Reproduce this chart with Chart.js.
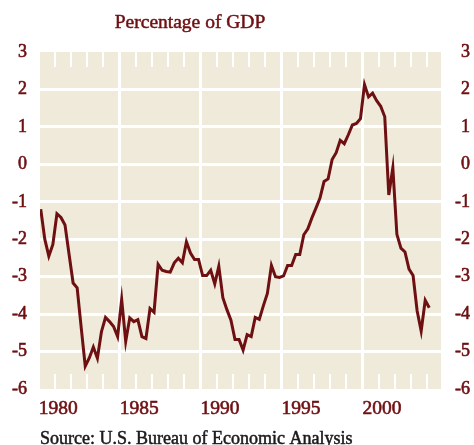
<!DOCTYPE html>
<html>
<head>
<meta charset="utf-8">
<script src="https://cdn.jsdelivr.net/npm/chart.js@4.4.1/dist/chart.umd.min.js"></script>
<style>
  html, body { margin: 0; padding: 0; background: #fff; }
  #wrap { width: 474px; height: 445px; }
</style>
</head>
<body>
<div id="wrap"><canvas id="gdpChart" width="474" height="445"></canvas></div>
<script>
// quarterly series, first quarter = 1980 Q1
const firstYear = 1980;
const balance = [
    -1.2, -2.0, -2.45, -2.14, -1.32, -1.42, -1.62, -2.4,
    -3.17, -3.3, -4.36, -5.39, -5.17, -4.88, -5.18, -4.47,
    -4.09, -4.2, -4.33, -4.6, -3.61, -4.73, -4.1, -4.2,
    -4.15, -4.6, -4.65, -3.85, -3.95, -2.67, -2.83, -2.86,
    -2.88, -2.63, -2.51, -2.63, -2.07, -2.37, -2.54, -2.54,
    -2.97, -2.97, -2.83, -3.19, -2.72, -3.56, -3.88, -4.16,
    -4.68, -4.68, -4.96, -4.55, -4.6, -4.09, -4.14, -3.78,
    -3.45, -2.7, -3.0, -3.02, -2.98, -2.7, -2.7, -2.41,
    -2.41, -1.88, -1.72, -1.43, -1.17, -0.9, -0.46, -0.39,
    0.13, 0.31, 0.64, 0.55, 0.79, 1.05, 1.09, 1.22,
    2.13, 1.8, 1.9, 1.7, 1.55, 1.27, -0.82, -0.09,
    -1.87, -2.24, -2.34, -2.8, -2.97, -3.91, -4.45, -3.63,
    -3.83
];
const yearLabels = [1980, 1985, 1990, 1995, 2000];
const minorYears = [1981, 1982, 1983, 1984, 1986, 1987, 1988, 1989, 1991, 1992, 1993, 1994,
    1996, 1997, 1998, 1999, 2001, 2002, 2003, 2004];
const yTicks = [-6, -5, -4, -3, -2, -1, 0, 1, 2, 3];

const maroon = '#6e0f12';
const cream = '#efeada';

// points sit in the middle of each quarter
const points = balance.map((v, i) => ({ x: firstYear + 0.125 + i / 4, y: v }));

// background, minor year ticks, title and source
const decor = {
    id: 'decor',
    beforeDraw(chart) {
        const a = chart.chartArea, ctx = chart.ctx;
        ctx.save();
        ctx.fillStyle = cream;
        ctx.fillRect(a.left, a.top, a.right - a.left, a.bottom - a.top);
        ctx.restore();
    },
    beforeDatasetsDraw(chart) {
        const a = chart.chartArea, ctx = chart.ctx, xs = chart.scales.x;
        ctx.save();
        ctx.strokeStyle = '#ffffff';
        ctx.lineWidth = 2;
        minorYears.forEach(yr => {
            const px = Math.round(xs.getPixelForValue(yr));
            ctx.beginPath();
            ctx.moveTo(px, a.top);
            ctx.lineTo(px, a.top + 15);
            ctx.moveTo(px, a.bottom);
            ctx.lineTo(px, a.bottom - 15);
            ctx.stroke();
        });
        ctx.restore();
    },
    afterDraw(chart) {
        const ctx = chart.ctx;
        ctx.save();
        ctx.textBaseline = 'alphabetic';
        ctx.lineWidth = 0.5;
        ctx.fillStyle = maroon;
        ctx.strokeStyle = maroon;
        ctx.font = '19.5px "Liberation Serif"';
        ctx.textAlign = 'center';
        ctx.strokeText('Percentage of GDP', 190, 28);
        ctx.fillText('Percentage of GDP', 190, 28);
        ctx.fillStyle = '#1a1a1a';
        ctx.strokeStyle = '#1a1a1a';
        ctx.font = '18px "Liberation Serif"';
        ctx.textAlign = 'left';
        ctx.strokeText('Source: U.S. Bureau of Economic Analysis', 40, 444);
        ctx.fillText('Source: U.S. Bureau of Economic Analysis', 40, 444);
        ctx.restore();
    }
};

const gdpChart = new Chart(document.getElementById('gdpChart').getContext('2d'), {
    type: 'line',
    data: {
        datasets: [{
            data: points,
            borderColor: maroon,
            borderWidth: 3,
            pointRadius: 0,
            tension: 0,
            fill: false
        }]
    },
    options: {
        responsive: false,
        animation: false,
        events: [],
        layout: { padding: { top: 52, right: 4, left: 0, bottom: 0 } },
        plugins: { legend: { display: false }, tooltip: { enabled: false } },
        scales: {
            x: {
                type: 'linear',
                min: 1980.08,
                max: 2004.85,
                afterBuildTicks: s => { s.ticks = yearLabels.map(v => ({ value: v })); },
                afterFit: s => { s.height = 56; },
                grid: {
                    color: ctx => ctx.tick && ctx.tick.value > 1980 ? '#ffffff' : 'rgba(0,0,0,0)',
                    lineWidth: 3,
                    drawTicks: false
                },
                border: { display: false },
                ticks: {
                    align: 'start',
                    padding: 8,
                    color: maroon,
                    textStrokeColor: maroon,
                    textStrokeWidth: 0.6,
                    font: { family: 'Liberation Serif', size: 19.5 },
                    callback: v => String(v),
                    maxRotation: 0,
                    autoSkip: false
                }
            },
            y: {
                position: 'left',
                min: -6,
                max: 3,
                afterBuildTicks: s => { s.ticks = yTicks.map(v => ({ value: v })); },
                afterFit: s => { s.width = 40; },
                grid: {
                    color: ctx => ctx.tick && ctx.tick.value > -6 && ctx.tick.value < 3 ? '#ffffff' : 'rgba(0,0,0,0)',
                    lineWidth: 3,
                    drawTicks: false
                },
                border: { display: false },
                ticks: {
                    padding: 13,
                    color: maroon,
                    textStrokeColor: maroon,
                    textStrokeWidth: 0.6,
                    font: { family: 'Liberation Serif', size: 18 }
                }
            },
            y2: {
                position: 'right',
                min: -6,
                max: 3,
                afterBuildTicks: s => { s.ticks = yTicks.map(v => ({ value: v })); },
                afterFit: s => { s.width = 29; },
                grid: { display: false, drawTicks: false },
                border: { display: false },
                ticks: {
                    crossAlign: 'far',
                    padding: 0,
                    color: maroon,
                    textStrokeColor: maroon,
                    textStrokeWidth: 0.6,
                    font: { family: 'Liberation Serif', size: 18 }
                }
            }
        }
    },
    plugins: [decor]
});
</script>
</body>
</html>
